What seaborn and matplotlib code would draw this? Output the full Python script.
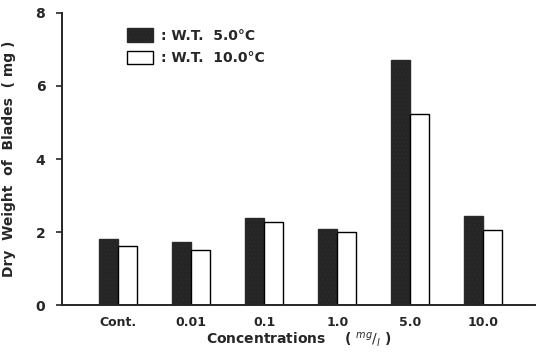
import pandas as pd
import numpy as np
import matplotlib
matplotlib.use('Agg')
import matplotlib.pyplot as plt
from matplotlib.patches import Patch
import seaborn as sns

concentrations = ['Cont.', '0.01', '0.1', '1.0', '5.0', '10.0']
wt_5 = [1.82, 1.72, 2.38, 2.08, 6.70, 2.45]
wt_10 = [1.62, 1.52, 2.28, 2.00, 5.22, 2.05]
series = ['W.T. 5.0°C', 'W.T. 10.0°C']

df = pd.DataFrame({
    'conc': concentrations * 2,
    'weight': wt_5 + wt_10,
    'temp': [series[0]] * len(wt_5) + [series[1]] * len(wt_10),
})

sns.set_style('ticks')
plt.rcParams['font.family'] = ['DejaVu Sans']

fig = plt.figure(figsize=(5.39, 3.59), dpi=100)
ax = fig.add_axes([0.115, 0.150, 0.878, 0.814])

sns.barplot(data=df, x='conc', y='weight', hue='temp', order=concentrations,
            hue_order=series, palette={series[0]: '#252525', series[1]: 'white'},
            width=0.52, edgecolor='black', linewidth=1.0, ax=ax, legend=False)

# stippled texture on the dark bars
for bar in ax.patches[:len(concentrations)]:
    bar.set_hatch('....')
    bar.set_edgecolor('#2a2a2a')

ax.set_ylim(0, 8)
ax.set_xlim(-0.77, 5.71)
ax.set_yticks([0, 2, 4, 6, 8])
ax.set_yticklabels(['0', '2', '4', '6', '8'], fontsize=10, fontweight='bold')
ax.tick_params(axis='x', length=0, pad=8, labelsize=9)
for t in ax.get_xticklabels():
    t.set_fontweight('bold')
ax.tick_params(axis='y', length=4, width=1.2, direction='out', pad=8)
sns.despine(ax=ax)
ax.spines['left'].set_linewidth(1.4)
ax.spines['bottom'].set_linewidth(1.4)

ax.set_ylabel('Dry  Weight  of  Blades  ( mg )', fontsize=10, fontweight='bold', labelpad=14)
ax.set_xlabel(r'Concentrations    ( $^{mg}/_{l}$ )', fontsize=10, fontweight='bold', labelpad=1)

handles = [Patch(facecolor='#252525', edgecolor='#2a2a2a', hatch='....'),
           Patch(facecolor='white', edgecolor='black', linewidth=1.0)]
ax.legend(handles, [': W.T.  5.0°C', ': W.T.  10.0°C'], loc='upper left',
          bbox_to_anchor=(0.11, 0.99), frameon=False,
          handlelength=1.9, handleheight=1.1, handletextpad=0.6,
          labelspacing=0.6, prop={'weight': 'bold', 'size': 10})

fig.savefig('out.png', dpi=100)
